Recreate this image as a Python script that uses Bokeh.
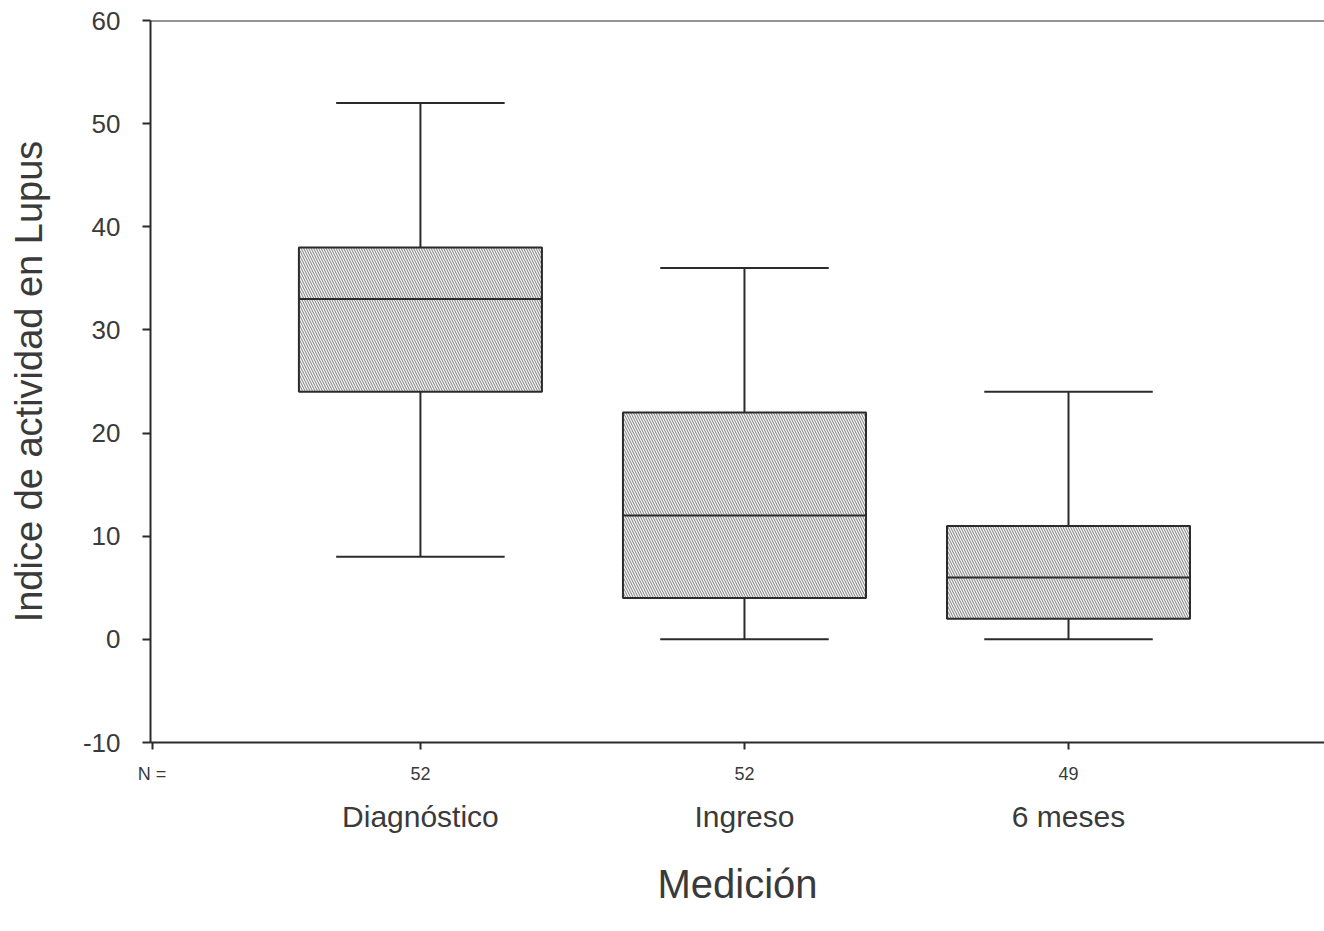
from bokeh.plotting import figure
from bokeh.models import (Range1d, FixedTicker, LinearAxis, Span, ColumnDataSource)
from bokeh.embed import file_html
from bokeh.resources import INLINE

# ---- data ----
categories = ["Diagnóstico", "Ingreso", "6 meses"]
n_values = [52, 52, 49]
whisker_low = [8, 0, 0]
q1 = [24, 4, 2]
median = [33, 12, 6]
q3 = [38, 22, 11]
whisker_high = [52, 36, 24]
y_ticks = [-10, 0, 10, 20, 30, 40, 50, 60]

# ---- style ----
FONT = "Liberation Sans"
INK = "#2b2b2b"
TXT = "#3a3a3a"
BOX_W = 0.75
CAP_W = 0.52
X_START, X_END = 0.167, 3.79
Y_START, Y_END = -10, 60
N_POS = X_START + 0.005

xs = [i + 1 for i in range(len(categories))]

src = ColumnDataSource(dict(
    x=xs, low=whisker_low, q1=q1, med=median, q3=q3, high=whisker_high,
    bl=[x - BOX_W / 2 for x in xs], br=[x + BOX_W / 2 for x in xs],
    cl=[x - CAP_W / 2 for x in xs], cr=[x + CAP_W / 2 for x in xs],
))

p = figure(width=1324, height=931, output_backend="svg", toolbar_location=None,
           x_range=Range1d(X_START, X_END), y_range=Range1d(Y_START, Y_END),
           min_border_left=150, min_border_right=0, min_border_top=20, min_border_bottom=189,
           background_fill_color="white", border_fill_color="white")
p.outline_line_color = None
p.xgrid.visible = False
p.ygrid.visible = False

# whiskers
p.segment(x0="x", y0="q3", x1="x", y1="high", source=src, line_color=INK, line_width=2)
p.segment(x0="x", y0="low", x1="x", y1="q1", source=src, line_color=INK, line_width=2)
p.segment(x0="cl", y0="high", x1="cr", y1="high", source=src, line_color=INK, line_width=2)
p.segment(x0="cl", y0="low", x1="cr", y1="low", source=src, line_color=INK, line_width=2)

# boxes
p.vbar(x="x", width=BOX_W, bottom="q1", top="q3", source=src,
       fill_color="#f3f3f3", line_color=INK, line_width=2,
       hatch_pattern="\\", hatch_scale=5, hatch_weight=1, hatch_color="#6b6b6b", hatch_alpha=0.85)
p.segment(x0="bl", y0="med", x1="br", y1="med", source=src, line_color=INK, line_width=2)

# top frame line
p.add_layout(Span(location=Y_END, dimension="width", line_color=INK, line_width=2))

# y axis
yax = p.yaxis[0]
yax.ticker = FixedTicker(ticks=y_ticks)
yax.major_label_overrides = {t: str(t) for t in y_ticks}
yax.axis_label = "Indice de actividad en Lupus"
yax.axis_label_text_font = FONT
yax.axis_label_text_font_style = "normal"
yax.axis_label_text_font_size = "38px"
yax.axis_label_text_color = TXT
yax.axis_label_standoff = 30
yax.major_label_text_font = FONT
yax.major_label_text_font_size = "26px"
yax.major_label_text_color = TXT
yax.major_label_standoff = 22
yax.axis_line_color = INK
yax.axis_line_width = 2
yax.major_tick_line_color = INK
yax.major_tick_line_width = 2
yax.major_tick_out = 8
yax.major_tick_in = 0
yax.minor_tick_line_color = None

# bottom axis: N values (with the "N =" lead label at the left corner)
xax = p.xaxis[0]
xax.ticker = FixedTicker(ticks=[N_POS] + xs)
overrides = {x: str(n) for x, n in zip(xs, n_values)}
overrides[N_POS] = "N ="
xax.major_label_overrides = overrides
xax.major_label_text_font = FONT
xax.major_label_text_font_size = "18px"
xax.major_label_text_color = TXT
xax.major_label_standoff = 14
xax.axis_line_color = INK
xax.axis_line_width = 2
xax.major_tick_line_color = INK
xax.major_tick_line_width = 2
xax.major_tick_out = 7
xax.major_tick_in = 0
xax.minor_tick_line_color = None

# second bottom axis: category names + title
cax = LinearAxis(ticker=FixedTicker(ticks=xs),
                 major_label_overrides={x: c for x, c in zip(xs, categories)})
cax.axis_line_color = None
cax.major_tick_line_color = None
cax.minor_tick_line_color = None
cax.major_label_text_font = FONT
cax.major_label_text_font_size = "30px"
cax.major_label_text_color = TXT
cax.major_label_standoff = 7
cax.axis_label = "Medición"
cax.axis_label_text_font = FONT
cax.axis_label_text_font_style = "normal"
cax.axis_label_text_font_size = "40px"
cax.axis_label_text_color = TXT
cax.axis_label_standoff = 26
p.add_layout(cax, "below")

open("out.html", "w").write(file_html(p, INLINE))
